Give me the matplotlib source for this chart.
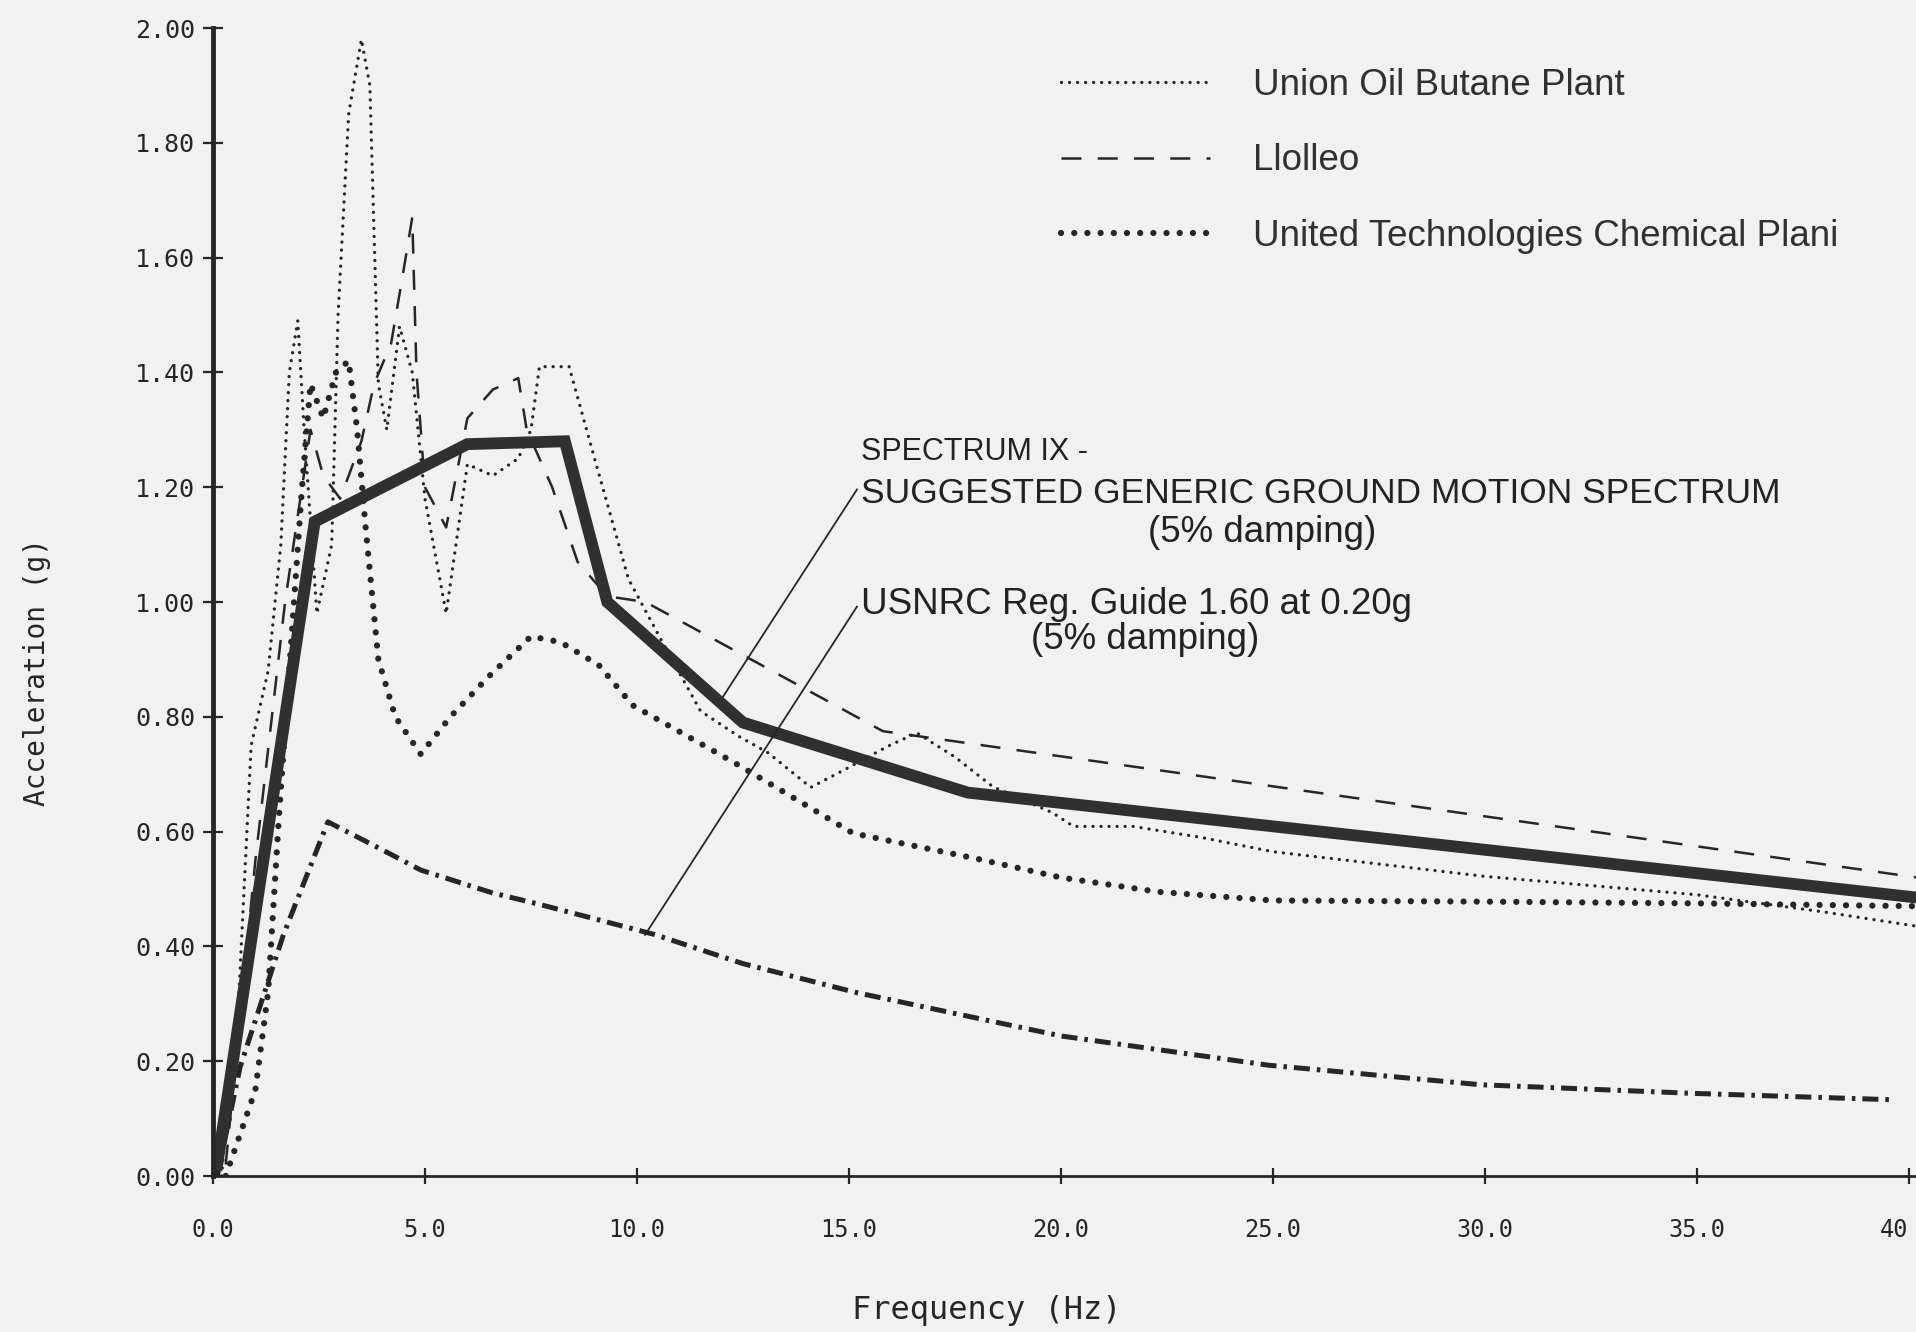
import matplotlib
matplotlib.use('Agg')
import matplotlib.pyplot as plt

# Spectrum IX - suggested generic ground motion spectrum
spec9_f = [0.1, 2.4, 6.0, 8.3, 9.3, 12.5, 17.8, 40.2]
spec9_a = [0.02, 1.14, 1.275, 1.28, 1.0, 0.79, 0.668, 0.485]

# USNRC Reg. Guide 1.60 at 0.20g
usnrc_f = [0.1, 0.64, 1.66, 2.71, 4.0, 4.9, 6.6, 7.66, 10.4, 12.5, 15.15, 20.0, 24.9, 29.9, 34.9, 39.55]
usnrc_a = [0.0, 0.19, 0.42, 0.617, 0.568, 0.533, 0.493, 0.474, 0.421, 0.37, 0.32, 0.244, 0.193, 0.159, 0.144, 0.133]

# Union Oil Butane Plant
union_f = [0.2, 0.6, 0.9, 1.3, 1.6, 1.8, 2.0, 2.15, 2.45, 2.8, 2.95, 3.2, 3.5, 3.7, 3.9,
           4.1, 4.4, 4.7, 5.0, 5.5, 6.0, 6.6, 7.2, 7.5, 7.7, 8.4, 9.0, 9.8, 10.6, 11.5,
           12.4, 13.1, 14.1, 14.9, 15.9, 16.6, 17.5, 18.4, 19.8, 20.3, 21.7, 23.3, 25.0,
           30.0, 35.0, 38.0, 40.2]
union_a = [0.0, 0.3, 0.75, 0.88, 1.1, 1.4, 1.49, 1.3, 0.98, 1.1, 1.5, 1.85, 1.98, 1.9, 1.38,
           1.3, 1.48, 1.4, 1.18, 0.98, 1.24, 1.22, 1.25, 1.3, 1.41, 1.41, 1.25, 1.04, 0.93, 0.81,
           0.766, 0.737, 0.677, 0.708, 0.748, 0.772, 0.73, 0.678, 0.633, 0.609, 0.609, 0.59, 0.565,
           0.522, 0.49, 0.46, 0.435]

# Llolleo
llolleo_f = [0.3, 1.0, 1.7, 2.1, 2.3, 2.6, 3.0, 3.5, 3.8, 4.2, 4.5, 4.7, 4.8, 5.0, 5.5,
             6.0, 6.6, 7.2, 7.4, 8.0, 8.6, 9.3, 10.2, 15.8, 40.2]
llolleo_a = [0.02, 0.55, 1.0, 1.2, 1.3, 1.22, 1.18, 1.28, 1.38, 1.45, 1.58, 1.67, 1.4, 1.2, 1.13,
             1.32, 1.37, 1.39, 1.3, 1.2, 1.07, 1.01, 1.0, 0.775, 0.52]

# United Technologies Chemical Plant
utc_f = [0.3, 1.0, 1.3, 1.55, 2.1, 2.3, 2.6, 2.9, 3.2, 3.4, 3.6, 3.9, 4.3, 4.9, 5.6, 6.5,
         7.5, 8.2, 9.1, 9.9, 11.1, 12.3, 13.1, 15.1, 18.0, 20.0, 22.3, 25.0, 30.0, 35.0, 40.2]
utc_a = [0.0, 0.15, 0.32, 0.62, 1.2, 1.38, 1.32, 1.40, 1.42, 1.30, 1.13, 0.9, 0.8, 0.735, 0.80, 0.87,
         0.94, 0.93, 0.89, 0.82, 0.77, 0.72, 0.685, 0.597, 0.553, 0.52, 0.495, 0.48, 0.478, 0.475, 0.47]

x_ticks = [0, 5, 10, 15, 20, 25, 30, 35, 40]
x_labels = ['0.0', '5.0', '10.0', '15.0', '20.0', '25.0', '30.0', '35.0', '40']
y_ticks = [0.0, 0.2, 0.4, 0.6, 0.8, 1.0, 1.2, 1.4, 1.6, 1.8, 2.0]

ink = '#262626'
paper = '#f1f1f1'

fig = plt.figure(figsize=(19.16, 13.32), dpi=100, facecolor=paper)
ax = fig.add_axes([213 / 1916, 1 - 1176 / 1332, 1703 / 1916, 1148 / 1332], facecolor=paper)

ax.plot(union_f, union_a, color=ink, lw=2.4, linestyle=(0, (0.01, 2.4)),
        dash_capstyle='round', label='Union Oil Butane Plant')
ax.plot(llolleo_f, llolleo_a, color=ink, lw=1.8, linestyle=(0, (8, 6.5)), label='Llolleo')
ax.plot(utc_f, utc_a, color=ink, lw=4.5, linestyle=(0, (0.01, 2.1)),
        dash_capstyle='round', label='United Technologies Chemical Plani')
ax.plot(usnrc_f, usnrc_a, color=ink, lw=3.6, linestyle=(0, (3.2, 1.4, 0.7, 1.4)))
ax.plot(spec9_f, spec9_a, color='#303030', lw=8.5, solid_joinstyle='miter')

ax.set_xlim(0, 40.17)
ax.set_ylim(0, 2.0)
ax.set_xticks(x_ticks)
ax.set_xticklabels(x_labels)
ax.set_yticks(y_ticks)
ax.set_yticklabels([f"{v:.2f}" for v in y_ticks])

for side in ['top', 'right']:
    ax.spines[side].set_visible(False)
ax.spines['left'].set_linewidth(3.5)
ax.spines['bottom'].set_linewidth(2.0)
ax.spines['left'].set_color(ink)
ax.spines['bottom'].set_color(ink)

ax.tick_params(axis='x', direction='inout', length=11, width=1.6, colors=ink,
               labelsize=17, pad=25)
ax.tick_params(axis='y', direction='inout', length=14, width=1.6, colors=ink,
               labelsize=18, pad=6)
for lbl in ax.get_xticklabels() + ax.get_yticklabels():
    lbl.set_family('DejaVu Sans Mono')
ax.get_xticklabels()[-1].set_horizontalalignment('right')

fig.text(37 / 1916, 1 - 672 / 1332, 'Acceleration (g)', rotation=90, ha='center', va='center',
         fontsize=20, family='DejaVu Sans Mono', color=ink)
fig.text(987 / 1916, 1 - 1311 / 1332, 'Frequency (Hz)', ha='center', va='center',
         fontsize=23, family='DejaVu Sans Mono', color=ink)

# annotations with leader lines
note = dict(family='Liberation Sans', color='#222222')
ax.text(15.28, 1.262, 'SPECTRUM IX -', ha='left', va='center', fontsize=22, **note)
ax.text(15.28, 1.189, 'SUGGESTED GENERIC GROUND MOTION SPECTRUM', ha='left', va='center',
        fontsize=25.5, **note)
ax.text(24.74, 1.121, '(5% damping)', ha='center', va='center', fontsize=26.5, **note)
ax.text(15.28, 0.996, 'USNRC Reg. Guide 1.60 at 0.20g', ha='left', va='center',
        fontsize=26.5, **note)
ax.text(21.98, 0.935, '(5% damping)', ha='center', va='center', fontsize=26.5, **note)
ax.plot([15.19, 12.03], [1.196, 0.835], color=ink, lw=1.3)
ax.plot([15.19, 10.19], [0.992, 0.42], color=ink, lw=1.3)

leg = ax.legend(loc='upper left', bbox_to_anchor=(1061 / 1916, 1 - 68 / 1332),
                bbox_transform=fig.transFigure, frameon=False, borderpad=0, borderaxespad=0,
                handlelength=4.05, handletextpad=1.18, labelspacing=1.1,
                prop={'family': 'Liberation Sans', 'size': 26.5})
for t in leg.get_texts():
    t.set_color('#303030')

fig.savefig('out.png', dpi=100, facecolor=paper)
